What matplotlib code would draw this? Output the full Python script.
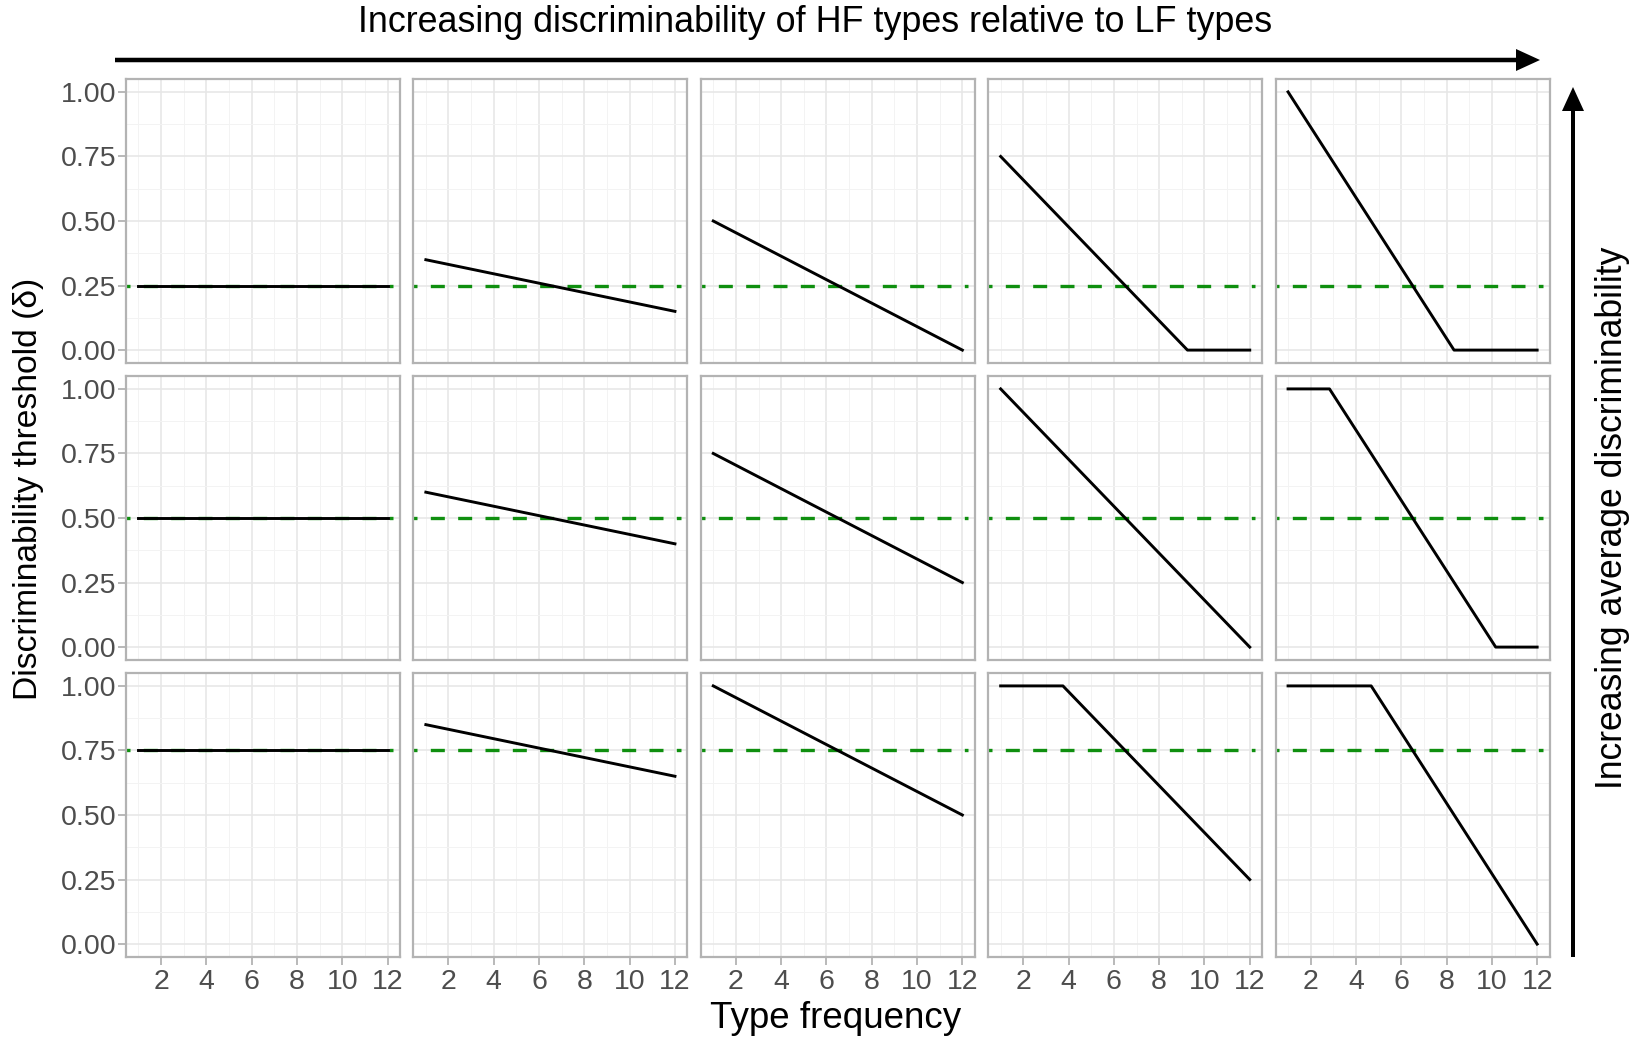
import matplotlib
matplotlib.use("Agg")
import matplotlib.pyplot as plt
import matplotlib.patches as mpatches

plt.rcParams['font.family'] = ['Liberation Sans', 'DejaVu Sans']

# ---------------- data ----------------
row_levels = [0.25, 0.50, 0.75]          # average discriminability per row (green dashed)
x_ticks = [2, 4, 6, 8, 10, 12]
y_ticks = [0.00, 0.25, 0.50, 0.75, 1.00]
y_tick_labels = ["0.00", "0.25", "0.50", "0.75", "1.00"]
ref_x = [0.0, 12.25]                      # extent of the green reference line

# breakpoints of threshold line, row by row, column by column
row1_x = [[1, 12], [1, 12], [1, 12], [1, 9.25, 12], [1, 8.33, 12]]
row1_y = [[0.25, 0.25], [0.35, 0.15], [0.50, 0.00], [0.75, 0.00, 0.00], [1.00, 0.00, 0.00]]
row2_x = [[1, 12], [1, 12], [1, 12], [1, 12], [1, 2.83, 10.17, 12]]
row2_y = [[0.50, 0.50], [0.60, 0.40], [0.75, 0.25], [1.00, 0.00], [1.00, 1.00, 0.00, 0.00]]
row3_x = [[1, 12], [1, 12], [1, 12], [1, 3.75, 12], [1, 4.67, 12]]
row3_y = [[0.75, 0.75], [0.85, 0.65], [1.00, 0.50], [1.00, 1.00, 0.25], [1.00, 1.00, 0.00]]

title_top = "Increasing discriminability of HF types relative to LF types"
title_right = "Increasing average discriminability"
xlabel = "Type frequency"
ylabel = "Discriminability threshold (\u03b4)"

rows_x = [row1_x, row2_x, row3_x]
rows_y = [row1_y, row2_y, row3_y]

# ---------------- layout ----------------
W, H = 1634, 1040
fig = plt.figure(figsize=(W / 100, H / 100), dpi=100)

left0, pw, pstep = 126, 274, 287.4
top0, ph, vstep = 79, 284, 297

border_col = "#b3b3b3"
grid_major = "#e6e6e6"
grid_minor = "#f3f3f3"
tick_col = "#4d4d4d"
green = "#0f8f0f"

for r in range(3):
    for c in range(5):
        x0 = left0 + c * pstep
        ytop = top0 + r * vstep
        ax = fig.add_axes([x0 / W, 1 - (ytop + ph) / H, pw / W, ph / H])
        ax.set_xlim(0.45, 12.55)
        ax.set_ylim(-0.05, 1.05)
        ax.set_xticks(x_ticks)
        ax.set_xticks([1, 3, 5, 7, 9, 11], minor=True)
        ax.set_yticks(y_ticks)
        ax.set_yticks([0.125, 0.375, 0.625, 0.875], minor=True)
        ax.grid(which="major", color=grid_major, linewidth=1.1)
        ax.grid(which="minor", color=grid_minor, linewidth=0.7)
        ax.set_axisbelow(True)
        for s in ax.spines.values():
            s.set_color(border_col)
            s.set_linewidth(1.6)
        ax.tick_params(which="minor", length=0)
        ax.tick_params(which="major", color=border_col, width=1.3, length=5.5,
                       labelcolor=tick_col, labelsize=20.5, pad=1.5)
        if c == 0:
            ax.set_yticklabels(y_tick_labels)
        else:
            ax.tick_params(axis="y", length=0, labelleft=False)
        if r == 2:
            ax.set_xticklabels([str(v) for v in x_ticks])
            ax.tick_params(axis="x", pad=3)
        else:
            ax.tick_params(axis="x", length=0, labelbottom=False)

        lvl = row_levels[r]
        ax.plot(ref_x, [lvl, lvl], color=green, linewidth=2.4,
                dashes=(4.2, 4.0), solid_capstyle="butt", dash_capstyle="butt", zorder=2)
        ax.plot(rows_x[r][c], rows_y[r][c], color="black", linewidth=2.1, zorder=3)

# ---------------- annotations ----------------
tr = fig.dpi_scale_trans
fig.text(815 / W, 1 - 23 / H, title_top, ha="center", va="center", fontsize=25.8)
fig.text(836 / W, 1 - 1018 / H, xlabel, ha="center", va="center", fontsize=26.5)
fig.text(29 / W, 1 - 489 / H, ylabel, ha="center", va="center", rotation=90, fontsize=24.2)
fig.text(1613 / W, 1 - 518 / H, title_right, ha="center", va="center", rotation=90, fontsize=25.6)

# horizontal arrow
hx0, hx1, hy = 115, 1540, H - 60
fig.add_artist(mpatches.FancyArrow(hx0 / 100, hy / 100, (hx1 - hx0) / 100, 0,
                                   width=4.5 / 100, head_width=22 / 100, head_length=24 / 100,
                                   length_includes_head=True, transform=tr,
                                   color="black", linewidth=0))
# vertical arrow
vx, vy0, vy1 = 1573, H - 957, H - 87
fig.add_artist(mpatches.FancyArrow(vx / 100, vy0 / 100, 0, (vy1 - vy0) / 100,
                                   width=4 / 100, head_width=22 / 100, head_length=24 / 100,
                                   length_includes_head=True, transform=tr,
                                   color="black", linewidth=0))

fig.savefig("out.png", dpi=100)
